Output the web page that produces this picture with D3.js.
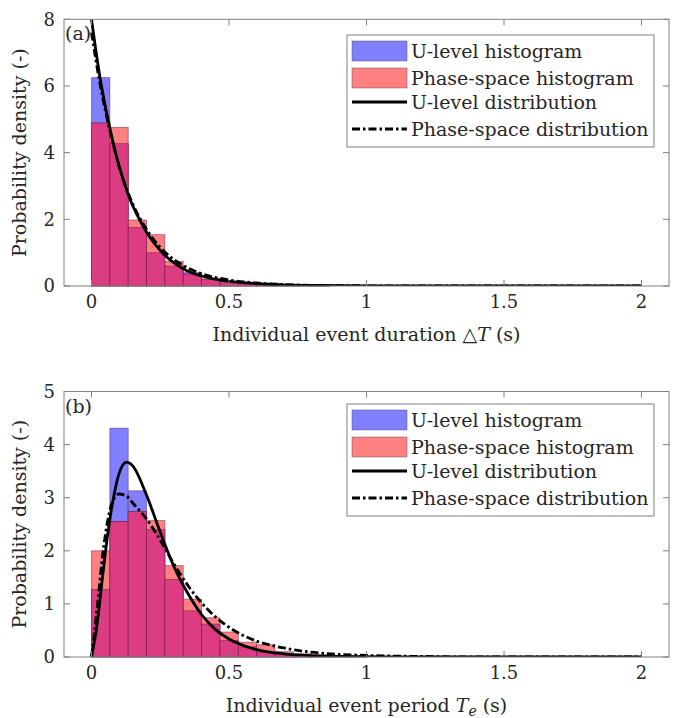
<!DOCTYPE html>
<html>
<head>
<meta charset="utf-8">
<script src="https://cdn.jsdelivr.net/npm/d3@7/dist/d3.min.js"></script>
<style>
    html, body { margin: 0; padding: 0; background: #ffffff; }
    svg { display: block; }
    text { font-family: "DejaVu Serif", serif; fill: #262626; }
</style>
</head>
<body>
<div id="chart"></div>
<script>
// Histogram bin width (s) and bin count, shared by both panels
const binWidth = 0.0667;
const xTicks = [0, 0.5, 1, 1.5, 2];

// Panel (a): individual event duration
const durationULevelHist = [6.25, 4.27, 1.76, 1.0, 0.6, 0.4, 0.2, 0.13, 0.08, 0.05, 0.03, 0.02, 0.01];
const durationPhaseHist = [4.89, 4.76, 1.98, 1.54, 0.74, 0.36, 0.21, 0.14, 0.09, 0.06, 0.04, 0.03, 0.02];
const durationCurveX = [0, 0.03, 0.067, 0.1, 0.133, 0.2, 0.267, 0.333, 0.4, 0.5, 0.6, 0.7, 0.8, 1.0, 1.2, 1.5, 2.0];
const durationULevelPdf = [8.0, 6.3, 4.73, 3.6, 2.75, 1.62, 0.92, 0.52, 0.3, 0.14, 0.07, 0.035, 0.017, 0.005, 0.001, 0, 0];
const durationPhasePdf = [7.6, 6.1, 4.65, 3.6, 2.8, 1.7, 1.02, 0.62, 0.37, 0.18, 0.09, 0.045, 0.02, 0.006, 0.002, 0, 0];
const durationYTicks = [0, 2, 4, 6, 8];

// Panel (b): individual event period
const periodULevelHist = [1.27, 4.31, 3.13, 2.40, 1.46, 0.87, 0.62, 0.31, 0.19, 0.09, 0.06, 0.04, 0.03, 0.02, 0.01];
const periodPhaseHist = [2.0, 2.55, 2.74, 2.57, 1.72, 1.09, 0.74, 0.47, 0.28, 0.23, 0.10, 0.06, 0.04, 0.03, 0.02];
const periodCurveX = [0, 0.02, 0.04, 0.06, 0.08, 0.1, 0.127, 0.15, 0.2, 0.25, 0.3, 0.35, 0.4, 0.45, 0.5, 0.6, 0.7, 0.8, 0.9, 1.0, 1.2, 1.5, 2.0];
const periodULevelPdf = [0, 0.6, 1.5, 2.35, 3.0, 3.45, 3.67, 3.6, 3.05, 2.35, 1.7, 1.2, 0.8, 0.52, 0.34, 0.14, 0.06, 0.025, 0.01, 0.005, 0, 0, 0];
const periodPhasePdf = [0, 0.9, 1.9, 2.6, 2.97, 3.07, 3.03, 2.9, 2.6, 2.2, 1.75, 1.35, 1.02, 0.76, 0.56, 0.3, 0.17, 0.09, 0.05, 0.03, 0.01, 0, 0];
const periodYTicks = [0, 1, 2, 3, 4, 5];

const legendLabels = ['U-level histogram', 'Phase-space histogram', 'U-level distribution', 'Phase-space distribution'];

const width = 677;
const height = 718;
const blueFill = '#8080ff';
const redFill = '#ff8080';
const overlapFill = '#dc3c82';
const axisGray = '#808080';

const svg = d3.select('#chart').append('svg')
    .attr('width', width)
    .attr('height', height);

const xScale = d3.scaleLinear().domain([-0.1, 2.1]).range([64, 669]);

function drawPanel(opts) {
    const { yMax, yRange, yTicks, uHist, pHist, curveX, uPdf, pPdf, tag, xLabel, legendTop } = opts;
    const yScale = d3.scaleLinear().domain([0, yMax]).range(yRange);
    const [y0, y1] = yRange;
    const [x0, x1] = xScale.range();
    const g = svg.append('g');

    // bars: full blue, full red, then the overlapping part on top
    const bins = d3.range(uHist.length).map((i) => ({
        x: i * binWidth, u: uHist[i], p: pHist[i]
    }));
    const barX = (d) => xScale(d.x);
    const barW = (d) => xScale(d.x + binWidth) - xScale(d.x);
    const barEdge = 'rgba(90,20,60,0.55)';

    g.selectAll('rect.u-bar').data(bins).join('rect')
        .attr('class', 'u-bar')
        .attr('x', barX).attr('width', barW)
        .attr('y', (d) => yScale(d.u)).attr('height', (d) => yScale(0) - yScale(d.u))
        .attr('fill', blueFill).attr('stroke', barEdge).attr('stroke-width', 0.8);
    g.selectAll('rect.p-bar').data(bins).join('rect')
        .attr('class', 'p-bar')
        .attr('x', barX).attr('width', barW)
        .attr('y', (d) => yScale(d.p)).attr('height', (d) => yScale(0) - yScale(d.p))
        .attr('fill', redFill).attr('stroke', barEdge).attr('stroke-width', 0.8);
    g.selectAll('rect.o-bar').data(bins).join('rect')
        .attr('class', 'o-bar')
        .attr('x', barX).attr('width', barW)
        .attr('y', (d) => yScale(Math.min(d.u, d.p)))
        .attr('height', (d) => yScale(0) - yScale(Math.min(d.u, d.p)))
        .attr('fill', overlapFill).attr('stroke', barEdge).attr('stroke-width', 0.8);

    // fitted distributions
    const clip = 'clip-' + tag;
    svg.append('clipPath').attr('id', clip).append('rect')
        .attr('x', x0).attr('y', y1).attr('width', x1 - x0).attr('height', y0 - y1);
    const line = d3.line()
        .x((d) => xScale(d[0]))
        .y((d) => yScale(d[1]))
        .curve(d3.curveMonotoneX);
    g.append('path')
        .datum(curveX.map((x, i) => [x, uPdf[i]]))
        .attr('clip-path', `url(#${clip})`)
        .attr('fill', 'none').attr('stroke', '#000').attr('stroke-width', 2.8)
        .attr('d', line);
    g.append('path')
        .datum(curveX.map((x, i) => [x, pPdf[i]]))
        .attr('clip-path', `url(#${clip})`)
        .attr('fill', 'none').attr('stroke', '#000').attr('stroke-width', 2.8)
        .attr('stroke-dasharray', '8 3 2.5 3')
        .attr('d', line);

    // axes box with inward ticks on all sides
    const axG = svg.append('g');
    axG.append('rect')
        .attr('x', x0).attr('y', y1).attr('width', x1 - x0).attr('height', y0 - y1)
        .attr('fill', 'none').attr('stroke', axisGray).attr('stroke-width', 1);
    const tickLen = 6;
    xTicks.forEach((t) => {
        const x = xScale(t);
        axG.append('line').attr('x1', x).attr('x2', x).attr('y1', y0).attr('y2', y0 - tickLen)
            .attr('stroke', axisGray);
        axG.append('line').attr('x1', x).attr('x2', x).attr('y1', y1).attr('y2', y1 + tickLen)
            .attr('stroke', axisGray);
        axG.append('text')
            .attr('x', x).attr('y', y0 + 22)
            .attr('text-anchor', 'middle').attr('font-size', 18)
            .text(String(t));
    });
    yTicks.forEach((t) => {
        const y = yScale(t);
        axG.append('line').attr('x1', x0).attr('x2', x0 + tickLen).attr('y1', y).attr('y2', y)
            .attr('stroke', axisGray);
        axG.append('line').attr('x1', x1).attr('x2', x1 - tickLen).attr('y1', y).attr('y2', y)
            .attr('stroke', axisGray);
        axG.append('text')
            .attr('x', x0 - 9).attr('y', y)
            .attr('dy', '0.35em')
            .attr('text-anchor', 'end').attr('font-size', 18)
            .text(String(t));
    });

    // panel tag
    axG.append('text')
        .attr('x', x0 + 1).attr('y', y1 + 21)
        .attr('font-size', 19)
        .text(`(${tag})`);

    // axis labels
    const xl = axG.append('text')
        .attr('x', (x0 + x1) / 2).attr('y', y0 + 55)
        .attr('text-anchor', 'middle').attr('font-size', 19);
    xLabel(xl);
    axG.append('text')
        .attr('transform', `translate(26,${(y0 + y1) / 2}) rotate(-90)`)
        .attr('text-anchor', 'middle').attr('font-size', 19)
        .text('Probability density (-)');

    // legend
    const lg = axG.append('g').attr('transform', `translate(347,${legendTop})`);
    lg.append('rect')
        .attr('width', 307).attr('height', 112)
        .attr('fill', '#fff').attr('stroke', axisGray).attr('stroke-width', 1);
    const rowY = [16, 43, 67, 94];
    [blueFill, redFill].forEach((c, i) => {
        lg.append('rect')
            .attr('x', 5).attr('y', rowY[i] - 10).attr('width', 55).attr('height', 20)
            .attr('fill', c).attr('stroke', 'rgba(60,60,60,0.5)').attr('stroke-width', 0.8);
    });
    lg.append('line').attr('x1', 5).attr('x2', 60).attr('y1', rowY[2]).attr('y2', rowY[2])
        .attr('stroke', '#000').attr('stroke-width', 2.8);
    lg.append('line').attr('x1', 5).attr('x2', 60).attr('y1', rowY[3]).attr('y2', rowY[3])
        .attr('stroke', '#000').attr('stroke-width', 2.8).attr('stroke-dasharray', '8 3 2.5 3');
    legendLabels.forEach((label, i) => {
        lg.append('text')
            .attr('x', 64).attr('y', rowY[i]).attr('dy', '0.35em')
            .attr('font-size', 19)
            .text(label);
    });
}

drawPanel({
    tag: 'a',
    yMax: 8,
    yRange: [286, 19.3],
    yTicks: durationYTicks,
    uHist: durationULevelHist,
    pHist: durationPhaseHist,
    curveX: durationCurveX,
    uPdf: durationULevelPdf,
    pPdf: durationPhasePdf,
    legendTop: 35,
    xLabel: (t) => {
        t.append('tspan').text('Individual event duration \u25B3');
        t.append('tspan').attr('font-style', 'italic').text('T');
        t.append('tspan').text(' (s)');
    }
});

drawPanel({
    tag: 'b',
    yMax: 5,
    yRange: [657, 391.5],
    yTicks: periodYTicks,
    uHist: periodULevelHist,
    pHist: periodPhaseHist,
    curveX: periodCurveX,
    uPdf: periodULevelPdf,
    pPdf: periodPhasePdf,
    legendTop: 404,
    xLabel: (t) => {
        t.append('tspan').text('Individual event period ');
        t.append('tspan').attr('font-style', 'italic').text('T');
        t.append('tspan').attr('font-style', 'italic').attr('font-size', 14).attr('dy', 4).text('e');
        t.append('tspan').attr('dy', -4).text(' (s)');
    }
});
</script>
</body>
</html>
